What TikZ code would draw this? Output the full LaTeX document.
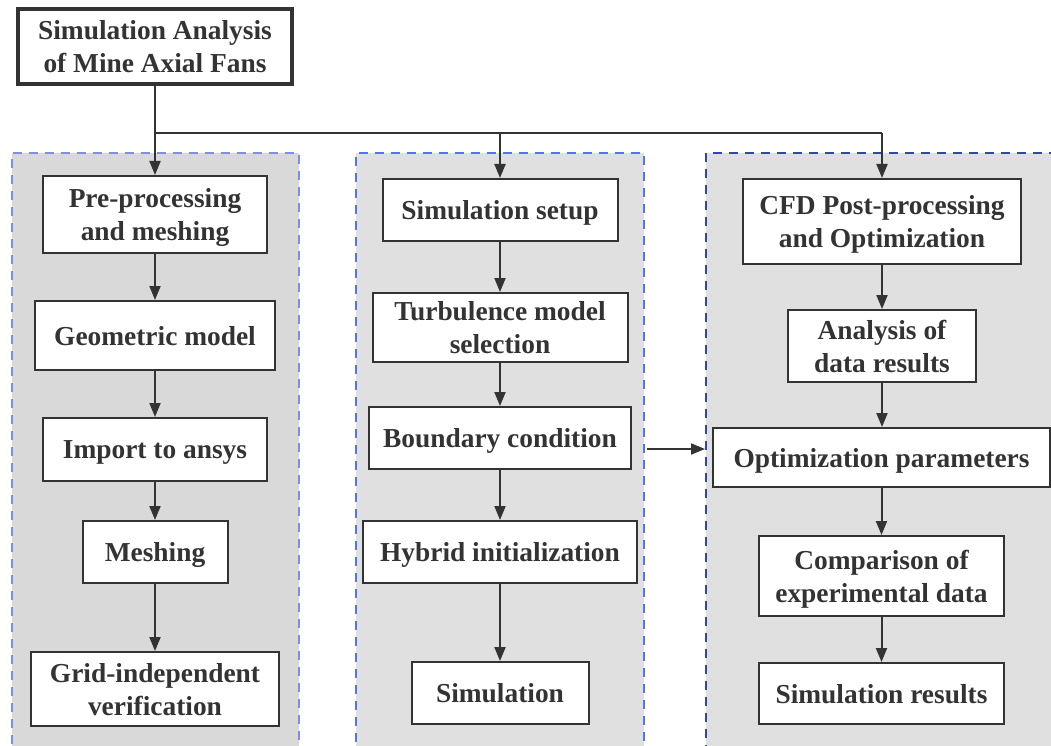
\documentclass[tikz,border=0pt]{standalone}
\usepackage{fontspec}
\setmainfont{Liberation Serif}
\usetikzlibrary{arrows.meta,calc}
\definecolor{ink}{HTML}{333333}
\definecolor{panelA}{HTML}{D9D9D9}
\definecolor{panelB}{HTML}{E0E0E0}
\definecolor{dashA}{HTML}{7B8CF2}
\definecolor{dashB}{HTML}{4E78E8}
\definecolor{dashC}{HTML}{2D45B0}
\tikzset{
  x=1pt,y=-1pt,
  stepbox/.style={draw=ink,line width=2pt,fill=white,text=ink,inner sep=0pt,align=center,
    text depth=0pt,font=\fontsize{27.4}{33}\selectfont\bfseries},
  topbox/.style={stepbox,line width=3.5pt},
  panel/.style={line width=2pt,dash pattern=on 9pt off 7pt,inner sep=0pt},
  arr/.style={draw=ink,line width=2pt,-{Triangle[length=14pt,width=11pt]}},
  ln/.style={draw=ink,line width=2pt}
}
\begin{document}
\begin{tikzpicture}
\useasboundingbox (0,0) rectangle (1051,746);
\clip (0,0) rectangle (1051,746);
\fill[white] (0,0) rectangle (1051,746);
% panels
\node[panel,fill=panelA,draw=dashA,minimum width=287pt,minimum height=620pt,anchor=north west] (p1) at (11,152) {};
\node[panel,fill=panelB,draw=dashB,minimum width=288pt,minimum height=620pt,anchor=north west] (p2) at (355,152) {};
\node[panel,fill=panelB,draw=dashC,minimum width=370pt,minimum height=620pt,anchor=north west] (p3) at (705,152) {};
% top
\node[topbox,minimum width=274pt,minimum height=75pt] (top) at (155,46.5) {Simulation Analysis\\of Mine Axial Fans};
% panel 1
\node[stepbox,minimum width=224pt,minimum height=77pt] (pp) at (155,214.5) {Pre-processing\\and meshing};
\node[stepbox,minimum width=240pt,minimum height=69pt] (gm) at (155,335.5) {Geometric model};
\node[stepbox,minimum width=224pt,minimum height=63pt] (ia) at (155,449.5) {Import to ansys};
\node[stepbox,minimum width=145pt,minimum height=62pt] (me) at (155,552) {Meshing};
\node[stepbox,minimum width=248pt,minimum height=74pt] (gi) at (155,689) {Grid-independent\\verification};
% panel 2
\node[stepbox,minimum width=235pt,minimum height=62pt] (ss) at (500,210) {Simulation setup};
\node[stepbox,minimum width=255pt,minimum height=69pt] (tm) at (500,327.5) {Turbulence model\\selection};
\node[stepbox,minimum width=262pt,minimum height=62pt] (bc) at (500,438) {Boundary condition};
\node[stepbox,minimum width=274pt,minimum height=62pt] (hi) at (500,552) {Hybrid initialization};
\node[stepbox,minimum width=177pt,minimum height=62pt] (si) at (500,693) {Simulation};
% panel 3
\node[stepbox,minimum width=278pt,minimum height=85pt] (cfd) at (882,221.5) {CFD Post-processing\\and Optimization};
\node[stepbox,minimum width=188pt,minimum height=72pt] (ad) at (882,346) {Analysis of\\data results};
\node[stepbox,minimum width=337pt,minimum height=59pt] (op) at (881.5,457.5) {Optimization parameters};
\node[stepbox,minimum width=245pt,minimum height=80pt] (cp) at (881.5,576) {Comparison of\\experimental data};
\node[stepbox,minimum width=245pt,minimum height=61pt] (sr) at (881.5,693.5) {Simulation results};
% connectors from top
\coordinate (split) at ($(top.south)+(0,47)$);
\draw[ln] (top.south) -- (split) -- (split -| cfd.north);
\draw[arr] (split) -- (pp.north);
\draw[arr] (split -| ss.north) -- (ss.north);
\draw[arr] (split -| cfd.north) -- (cfd.north);
% chains
\draw[arr] (pp) -- (gm);
\draw[arr] (gm) -- (ia);
\draw[arr] (ia) -- (me);
\draw[arr] (me) -- (gi);
\draw[arr] (ss) -- (tm);
\draw[arr] (tm) -- (bc);
\draw[arr] (bc) -- (hi);
\draw[arr] (hi) -- (si);
\draw[arr] (cfd) -- (ad);
\draw[arr] (ad.south) -- (ad.south |- op.north);
\draw[arr] (op) -- (cp);
\draw[arr] (cp) -- (sr);
% cross arrow
\coordinate (cs) at ($(p2.east |- 0,449)+(2,0)$);
\draw[arr] (cs) -- (cs -| p3.west);
\end{tikzpicture}
\end{document}
